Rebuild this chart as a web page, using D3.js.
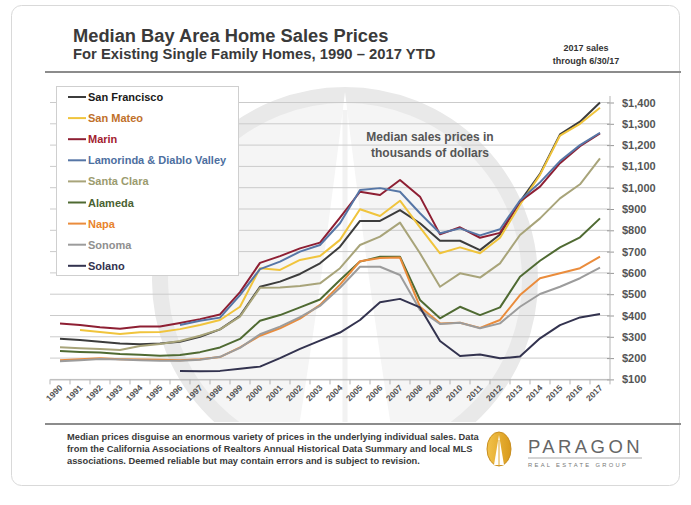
<!DOCTYPE html>
<html><head><meta charset="utf-8">
<script src="https://cdn.jsdelivr.net/npm/d3@7"></script>
<style>
html,body{margin:0;padding:0;background:#fff;}
text{font-family:"Liberation Sans",Arial,sans-serif;}
</style></head>
<body><svg id="c" width="691" height="505"></svg>
<script>
const years = d3.range(1990, 2018);
const seriesNames = ["San Francisco","San Mateo","Marin","Lamorinda & Diablo Valley","Santa Clara","Alameda","Napa","Sonoma","Solano"];
const lineColors = ["#3c3c3c","#f0c43c","#8e1f33","#5676a6","#a8a47a","#4f6a32","#ea8c3c","#9c9c9c","#33334f"];
const textColors = ["#1a1a1a","#c0702a","#a3222f","#4d6fa0","#9b9b6e","#4a6232","#e8832c","#8f8f8f","#33334f"];
const sanFrancisco = [291,285,277,269,265,268,277,300,335,398,535,559,595,645,723,844,844,895,833,751,751,707,780,935,1065,1250,1310,1400];
const sanMateo = [null,332,322,313,321,322,336,355,379,441,622,614,661,679,755,899,867,939,814,692,720,692,765,920,1060,1245,1300,1375];
const marin = [362,355,345,338,348,348,365,383,405,510,647,679,715,742,860,981,966,1036,958,781,814,765,788,935,1005,1115,1195,1255];
const lamorinda = [null,null,null,null,null,null,355,375,390,496,618,653,700,731,833,989,998,981,880,786,809,776,805,940,1025,1125,1200,1258];
const santaClara = [251,246,243,238,257,266,280,305,335,395,530,532,538,551,622,731,770,836,692,535,598,578,645,778,856,950,1016,1138];
const alameda = [233,229,226,219,216,211,215,228,250,290,375,402,438,475,567,653,676,676,473,387,441,402,438,582,657,720,767,856];
const napa = [190,195,199,195,193,192,190,195,205,250,305,340,385,450,545,655,670,672,441,363,366,342,379,496,575,598,622,676];
const sonoma = [185,190,196,193,190,188,187,192,206,248,312,348,392,445,530,629,629,590,426,360,366,340,363,441,501,535,575,625];
const solano = [null,null,null,null,null,null,140,138,140,150,160,200,243,282,320,379,462,478,438,280,210,217,199,207,293,355,391,407];
const seriesValues = [sanFrancisco,sanMateo,marin,lamorinda,santaClara,alameda,napa,sonoma,solano];
const yTicks = [100,200,300,400,500,600,700,800,900,1000,1100,1200,1300,1400];
const titleText = "Median Bay Area Home Sales Prices";
const subtitleText = "For Existing Single Family Homes, 1990 \u2013 2017 YTD";
const noteLines = ["2017 sales","through 6/30/17"];
const annotationLines = ["Median sales prices in","thousands of dollars"];
const footerLines = [
 "Median prices disguise an enormous variety of prices in the underlying individual sales. Data",
 "from the California Associations of Realtors Annual Historical Data Summary and local MLS",
 "associations.  Deemed reliable but may contain errors and is subject to revision."];

const svg = d3.select("#c");
const L = 50, R = 610, T = 102.5, B = 379.4;
const x = d3.scaleBand().domain(years).range([L, R]);
const y = d3.scaleLinear().domain([100, 1400]).range([B, T]);
const cx = d => x(d) + x.bandwidth()/2;

// card
svg.append("rect").attr("x",11.5).attr("y",5.5).attr("width",668).attr("height",480)
  .attr("rx",10).attr("fill","#fff").attr("stroke","#d9d9d9");

// watermark
const defs = svg.append("defs");
defs.append("clipPath").attr("id","wm").append("rect").attr("x",12).attr("y",74).attr("width",667).attr("height",348);
const wm = svg.append("g").attr("clip-path","url(#wm)");
wm.append("circle").attr("cx",345).attr("cy",280).attr("r",185).attr("fill","#f5f5f5").attr("stroke","#e9e9e9").attr("stroke-width",16);
wm.append("path").attr("d","M345,92 Q320,300 292,470 L398,470 Q370,300 345,92Z").attr("fill","#fff");
wm.append("line").attr("x1",345).attr("y1",110).attr("x2",345).attr("y2",470).attr("stroke","#f2f2f2").attr("stroke-width",5);

// titles
svg.append("text").attr("x",73).attr("y",42).attr("font-size",18.3).attr("font-weight","bold").attr("fill","#3a3a3a").text(titleText);
svg.append("text").attr("x",73).attr("y",59).attr("font-size",14.8).attr("font-weight","bold").attr("fill","#3a3a3a").text(subtitleText);
svg.append("g").selectAll("text").data(noteLines).join("text")
  .attr("x",586).attr("y",(d,i)=>51+i*13).attr("text-anchor","middle").attr("font-size",9).attr("font-weight","bold").attr("fill","#333").text(d=>d);
svg.append("line").attr("x1",45).attr("x2",681).attr("y1",72).attr("y2",72).attr("stroke","#8c8c8c").attr("stroke-width",2);

// gridlines
svg.append("g").selectAll("line").data(yTicks).join("line")
  .attr("x1",L).attr("x2",R).attr("y1",d=>y(d)).attr("y2",d=>y(d)).attr("stroke","#cbcbcb").attr("stroke-width",1);

// right axis
const ya = svg.append("g").attr("transform",`translate(${R},0)`)
  .call(d3.axisRight(y).tickValues(yTicks).tickFormat(d3.format("$,")).tickSize(4).tickPadding(8));
ya.select(".domain").remove();
ya.selectAll(".tick line").attr("stroke","#999").attr("x1",-3);
ya.selectAll("text").attr("font-size",11).attr("font-weight","bold").attr("fill","#555").attr("font-family","Liberation Sans,Arial,sans-serif");
svg.append("line").attr("x1",R).attr("x2",R).attr("y1",96).attr("y2",B).attr("stroke","#b5b5b5");

// x axis
const xa = svg.append("g").attr("transform",`translate(0,${B})`)
  .call(d3.axisBottom(x).tickSize(0).tickPadding(0));
xa.select(".domain").attr("stroke","#b5b5b5");
xa.selectAll(".tick text").attr("font-size",8.5).attr("font-weight","bold").attr("fill","#555")
  .attr("font-family","Liberation Sans,Arial,sans-serif")
  .attr("text-anchor","end").attr("dy",0).attr("transform","translate(3,9) rotate(-45)");
svg.append("g").selectAll("line").data(d3.range(years.length+1)).join("line")
  .attr("x1",i=>L+i*x.step()).attr("x2",i=>L+i*x.step()).attr("y1",B).attr("y2",B+5).attr("stroke","#b5b5b5");

// annotation
svg.append("g").selectAll("text").data(annotationLines).join("text")
  .attr("x",430).attr("y",(d,i)=>141+i*16).attr("text-anchor","middle").attr("font-size",12).attr("font-weight","bold").attr("fill","#555").text(d=>d);

// lines
const line = d3.line().defined(d=>d[1]!=null).x(d=>cx(d[0])).y(d=>y(d[1]));
svg.append("g").selectAll("path").data(seriesValues).join("path")
  .attr("d",vals=>line(years.map((yr,i)=>[yr,vals[i]])))
  .attr("fill","none").attr("stroke",(d,i)=>lineColors[i]).attr("stroke-width",2).attr("stroke-linejoin","round");

// legend
svg.append("rect").attr("x",56.5).attr("y",86.5).attr("width",182).attr("height",189).attr("fill","#fff").attr("stroke","#cfcfcf");
const lg = svg.append("g").selectAll("g").data(seriesNames).join("g")
  .attr("transform",(d,i)=>`translate(0,${97+i*21.1})`);
lg.append("line").attr("x1",68).attr("x2",86).attr("y1",0).attr("y2",0).attr("stroke",(d,i)=>lineColors[i]).attr("stroke-width",2);
lg.append("text").attr("x",88).attr("y",4).attr("font-size",11).attr("font-weight","bold").attr("fill",(d,i)=>textColors[i]).text(d=>d);

// footer
svg.append("line").attr("x1",45).attr("x2",681).attr("y1",424).attr("y2",424).attr("stroke","#8c8c8c").attr("stroke-width",2);
svg.append("g").selectAll("text").data(footerLines).join("text")
  .attr("x",67).attr("y",(d,i)=>440+i*12).attr("font-size",9.3).attr("font-weight","bold").attr("fill","#3a3a3a").text(d=>d);

// logo
const gg = defs.append("linearGradient").attr("id","gold").attr("x1",0).attr("x2",1);
gg.append("stop").attr("offset","0").attr("stop-color","#f2c24a");
gg.append("stop").attr("offset","1").attr("stop-color","#d99a1c");
svg.append("ellipse").attr("cx",499).attr("cy",449).attr("rx",12).attr("ry",17).attr("fill","url(#gold)").attr("stroke","#c88e20");
svg.append("path").attr("d","M499,435 L494,465 L504,465Z").attr("fill","#fff");
svg.append("line").attr("x1",499).attr("x2",499).attr("y1",440).attr("y2",465).attr("stroke","#e0a830").attr("stroke-width",1);
svg.append("text").attr("x",528).attr("y",453).attr("font-size",18.5).attr("letter-spacing",3.4).attr("fill","#666").text("PARAGON");
svg.append("line").attr("x1",528).attr("x2",642).attr("y1",458).attr("y2",458).attr("stroke","#aaa");
svg.append("text").attr("x",528).attr("y",467).attr("font-size",5.8).attr("letter-spacing",2.3).attr("fill","#777").text("REAL ESTATE GROUP");
</script></body></html>
